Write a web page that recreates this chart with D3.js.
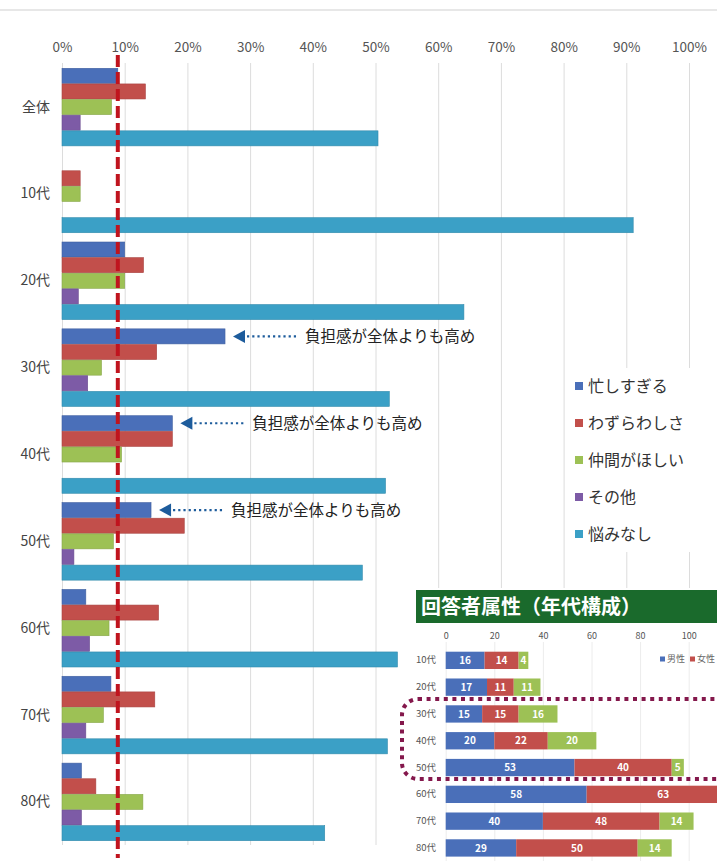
<!DOCTYPE html>
<html lang="ja">
<head>
<meta charset="utf-8">
<script src="https://cdn.jsdelivr.net/npm/d3@7"></script>
<style>
  html, body { margin: 0; padding: 0; background: #fff; }
  svg { display: block; font-family: "Noto Sans CJK JP", "Noto Sans", sans-serif; }
</style>
</head>
<body>
<svg id="chart" width="717" height="861"></svg>
<script>
// ---- main chart: worries by age group (%) ----
const categories = ['全体', '10代', '20代', '30代', '40代', '50代', '60代', '70代', '80代'];
const seriesNames = ['忙しすぎる', 'わずらわしさ', '仲間がほしい', 'その他', '悩みなし'];
const busy     = [8.9, 0,    10.0, 26.0, 17.6, 14.2, 3.8,  7.8,  3.1];
const bother   = [13.3, 2.9, 13.0, 15.1, 17.6, 19.5, 15.4, 14.8, 5.4];
const friends  = [7.9, 2.9,  10.0, 6.3,  9.5,  8.2,  7.5,  6.6,  12.9];
const other    = [2.9, 0,    2.6,  4.1,  0,    1.9,  4.4,  3.8,  3.1];
const noWorry  = [50.4, 91.1, 64.1, 52.2, 51.6, 47.9, 53.5, 51.9, 41.9];
const xTicks = [0, 10, 20, 30, 40, 50, 60, 70, 80, 90, 100];
const seriesColors = ['#4a6fb9', '#c24f4b', '#9dc155', '#7d5ba6', '#3ba0c6'];
const annotated = ['30代', '40代', '50代'];
const noteText = '負担感が全体よりも高め';

// ---- inset: respondents by age and sex ----
const ageGroups = ['10代', '20代', '30代', '40代', '50代', '60代', '70代', '80代'];
const male   = [16, 17, 15, 20, 53, 58, 40, 29];
const female = [14, 11, 15, 22, 40, 63, 48, 50];
const third  = [4, 11, 16, 20, 5, null, 14, 14];
const insetSeries = ['男性', '女性'];
const insetTicks = [0, 20, 40, 60, 80, 100];
const insetColors = ['#4a6fb9', '#c24f4b', '#9dc155'];

const seriesValues = [busy, bother, friends, other, noWorry];

const svg = d3.select('#chart');

// page frame line
svg.append('line')
  .attr('x1', 0).attr('x2', 717).attr('y1', 10).attr('y2', 10)
  .attr('stroke', '#cfcfcf').attr('stroke-width', 1);

const x = d3.scaleLinear().domain([0, 100]).range([62, 689]);
const y = d3.scaleBand().domain(categories).range([68, 841]).paddingInner(0.1).paddingOuter(0);
const ySub = d3.scaleBand().domain(seriesNames).range([0, y.bandwidth()]);

// vertical gridlines
const xAxis = d3.axisTop(x).tickValues(xTicks).tickFormat(d => d + '%').tickSize(-(845 - 63)).tickPadding(12);
const gx = svg.append('g').attr('transform', 'translate(0,63)').call(xAxis);
gx.select('.domain').remove();
gx.selectAll('.tick line').attr('stroke', '#dcdcdc').attr('stroke-width', 1);
gx.selectAll('.tick text')
  .attr('fill', '#555').attr('font-size', 13.5)
  .attr('font-family', '"Noto Sans CJK JP", sans-serif')
  .attr('dy', '0.1em');

// category labels
const yAxis = d3.axisLeft(y).tickSize(0).tickPadding(0);
const gy = svg.append('g').attr('transform', 'translate(50,0)').call(yAxis);
gy.select('.domain').remove();
gy.selectAll('.tick text')
  .attr('fill', '#444').attr('font-size', 14)
  .attr('font-family', '"Noto Sans CJK JP", sans-serif');

// grouped bars
const rows = categories.map((c, i) => ({
  cat: c,
  vals: seriesNames.map((s, j) => ({ s, v: seriesValues[j][i], color: seriesColors[j] }))
}));

const groups = svg.append('g').selectAll('g').data(rows).join('g')
  .attr('transform', d => `translate(0,${y(d.cat)})`);

groups.selectAll('rect').data(d => d.vals.filter(v => v.v > 0)).join('rect')
  .attr('x', x(0))
  .attr('y', d => ySub(d.s) + 0.3)
  .attr('width', d => x(d.v) - x(0))
  .attr('height', ySub.bandwidth() - 0.6)
  .attr('fill', d => d.color)
  .attr('stroke', d => d3.color(d.color).darker(0.4))
  .attr('stroke-width', 0.6);

// reference line at the overall "busy" share
svg.append('line')
  .attr('x1', x(busy[0])).attr('x2', x(busy[0]))
  .attr('y1', 55).attr('y2', 858)
  .attr('stroke', '#c0141e').attr('stroke-width', 4)
  .attr('stroke-dasharray', '12,5');

// annotations pointing at the busy bar
const notes = svg.append('g');
annotated.forEach(cat => {
  const i = categories.indexOf(cat);
  const tip = x(busy[i]) + 8;
  const cy = y(cat) + ySub('忙しすぎる') + ySub.bandwidth() / 2;
  const g = notes.append('g').attr('transform', `translate(${tip},${cy})`);
  g.append('path').attr('d', 'M0,0 L12,-6.5 L12,6.5 Z').attr('fill', '#1d5c9c');
  g.append('line').attr('x1', 14).attr('x2', 66).attr('y1', 0).attr('y2', 0)
    .attr('stroke', '#1d5c9c').attr('stroke-width', 2.2).attr('stroke-dasharray', '2.2,3');
  g.append('text').attr('x', 72).attr('y', 0).attr('dy', '0.36em')
    .attr('font-size', 15.5).attr('fill', '#222').text(noteText);
});

// legend
const legend = svg.append('g');
legend.append('rect').attr('x', 568).attr('y', 368).attr('width', 149).attr('height', 184).attr('fill', '#fff');
const leg = legend.selectAll('g.item').data(seriesNames).join('g')
  .attr('class', 'item')
  .attr('transform', (d, i) => `translate(575,${386 + i * 37})`);
leg.append('rect').attr('x', 0).attr('y', -4).attr('width', 8).attr('height', 8)
  .attr('fill', (d, i) => seriesColors[i]);
leg.append('text').attr('x', 13).attr('y', 0).attr('dy', '0.36em')
  .attr('font-size', 16).attr('fill', '#333').text(d => d);

// ---- inset chart ----
const inset = svg.append('g');
inset.append('rect').attr('x', 408).attr('y', 588).attr('width', 309).attr('height', 273).attr('fill', '#fff');

inset.append('rect').attr('x', 416).attr('y', 590).attr('width', 310).attr('height', 33).attr('fill', '#1a6a2c');
inset.append('text').attr('x', 421).attr('y', 606.5).attr('dy', '0.36em')
  .attr('font-size', 20).attr('font-weight', 700).attr('fill', '#fff')
  .text('回答者属性（年代構成）');

const ix = d3.scaleLinear().domain([0, 100]).range([445.7, 688.7]);
const iy = d3.scaleBand().domain(ageGroups).range([646.95, 861.35]).paddingInner(0.354).paddingOuter(0.177);

const ixAxis = d3.axisTop(ix).tickValues(insetTicks).tickSize(-(861 - 642)).tickPadding(3);
const gix = inset.append('g').attr('transform', 'translate(0,642)').call(ixAxis);
gix.select('.domain').remove();
gix.selectAll('.tick line').attr('stroke', '#ececec');
gix.selectAll('.tick text').attr('fill', '#555').attr('font-size', 9)
  .attr('font-family', '"Noto Sans CJK JP", sans-serif');

const iyAxis = d3.axisLeft(iy).tickSize(0).tickPadding(0);
const giy = inset.append('g').attr('transform', 'translate(436,0)').call(iyAxis);
giy.select('.domain').remove();
giy.selectAll('.tick text').attr('fill', '#555').attr('font-size', 9.5)
  .attr('font-family', '"Noto Sans CJK JP", sans-serif');

const stackRows = ageGroups.map((a, i) => {
  const parts = [male[i], female[i], third[i]];
  let acc = 0;
  return parts.map((v, k) => {
    const seg = { age: a, v, x0: acc, color: insetColors[k] };
    if (v != null) acc += v;
    return seg;
  }).filter(s => s.v != null);
}).flat();

inset.append('g').selectAll('rect').data(stackRows).join('rect')
  .attr('x', d => ix(d.x0))
  .attr('y', d => iy(d.age))
  .attr('width', d => ix(d.x0 + d.v) - ix(d.x0))
  .attr('height', iy.bandwidth())
  .attr('fill', d => d.color);

inset.append('g').selectAll('text').data(stackRows).join('text')
  .attr('x', d => ix(d.x0 + d.v / 2))
  .attr('y', d => iy(d.age) + iy.bandwidth() / 2)
  .attr('dy', '0.36em')
  .attr('text-anchor', 'middle')
  .attr('font-size', 10).attr('font-weight', 700).attr('fill', '#fff')
  .text(d => d.v);

// inset legend
const ileg = inset.append('g').selectAll('g').data(insetSeries).join('g')
  .attr('transform', (d, i) => `translate(${660 + i * 30},659)`);
ileg.append('rect').attr('x', 0).attr('y', -2.5).attr('width', 5).attr('height', 5)
  .attr('fill', (d, i) => insetColors[i]);
ileg.append('text').attr('x', 7).attr('y', 0).attr('dy', '0.36em')
  .attr('font-size', 9).attr('fill', '#666').text(d => d);

// highlight frame around 30代–50代
inset.append('rect')
  .attr('x', 402).attr('y', 699).attr('width', 360).attr('height', 80)
  .attr('rx', 16).attr('ry', 16)
  .attr('fill', 'none').attr('stroke', '#84184c').attr('stroke-width', 4)
  .attr('stroke-dasharray', '4,4.6');
</script>
</body>
</html>
